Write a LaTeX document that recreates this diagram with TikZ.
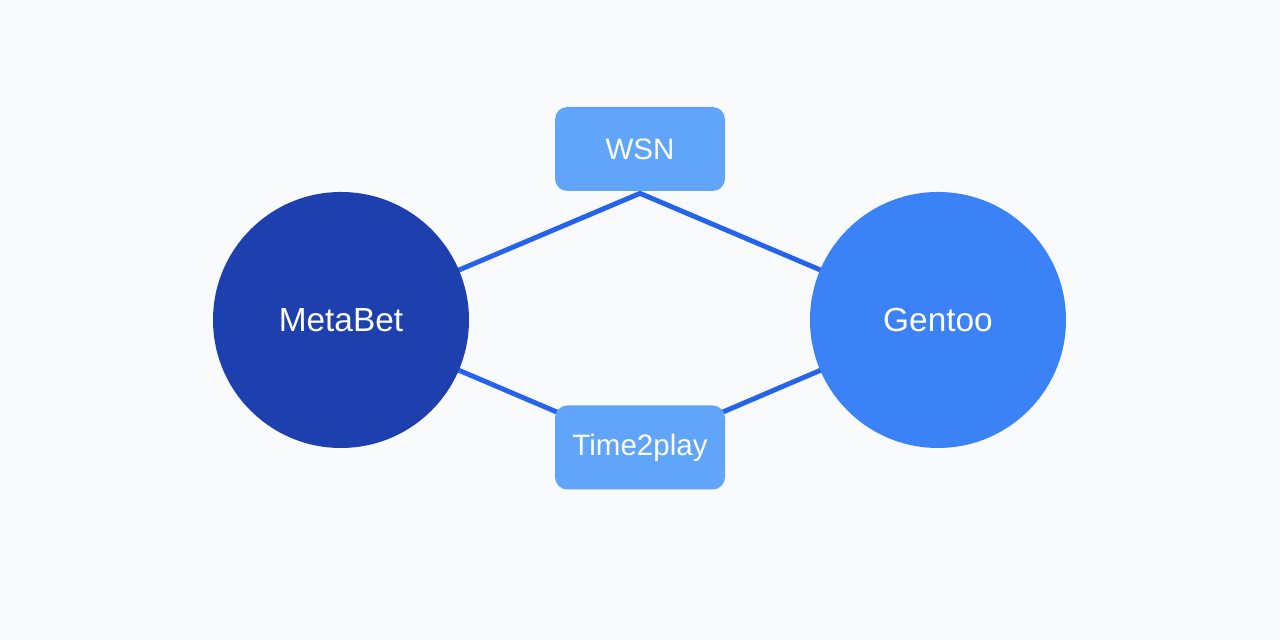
\documentclass[tikz,border=0pt]{standalone}
\usepackage{fontspec}
\setmainfont{Liberation Sans}
\usepackage{xcolor}
\usepackage{tikz}
\usetikzlibrary{positioning}
\definecolor{nwbg}{HTML}{F8FAFC}
\definecolor{nwdark}{HTML}{1E40AF}
\definecolor{nwmid}{HTML}{3B82F6}
\definecolor{nwlight}{HTML}{60A5FA}
\definecolor{nwline}{HTML}{2563EB}
\pgfdeclarelayer{nwback}
\pgfsetlayers{nwback,main}
\tikzset{
  nwhub/.style={circle, fill=#1, minimum size=5.12cm, inner sep=0pt,
    text=white, font=\fontsize{19}{23}\selectfont},
  nwbox/.style={fill=nwlight, rounded corners=7pt, minimum width=3.4cm,
    minimum height=1.68cm, inner sep=0pt, text=white,
    font=\fontsize{16.8}{20}\selectfont},
  nwlink/.style={draw=nwline, line width=2.8pt}
}

\begin{document}
\begin{tikzpicture}
  \useasboundingbox (0cm,0cm) rectangle (25.6cm,12.8cm);
  \node[nwhub=nwdark] (metabet) at (6.82cm,6.40cm) {MetaBet};
  \node[nwhub=nwmid] (gentoo) at (18.76cm,6.40cm) {Gentoo};
  \node[nwbox] (wsn) at (12.80cm,9.82cm) {WSN};
  \node[nwbox] (timeplay) at (12.80cm,3.85cm) {Time2play};
  % links go under the shapes
  \begin{pgfonlayer}{nwback}
    \fill[nwbg] (0cm,0cm) rectangle (25.6cm,12.8cm);
    \draw[nwlink] (metabet.center) -- ([yshift=-0.04cm]wsn.south) -- (gentoo.center);
    \draw[nwlink] (metabet.center) -- (timeplay.center) -- (gentoo.center);
  \end{pgfonlayer}
\end{tikzpicture}
\end{document}
